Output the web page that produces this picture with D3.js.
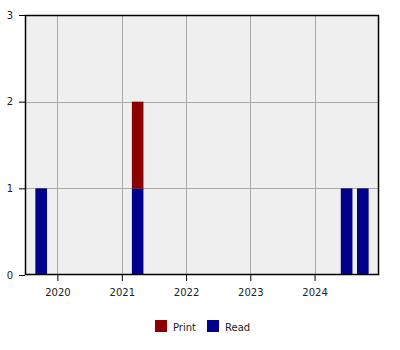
<!DOCTYPE html>
<html>
<head>
<meta charset="utf-8">
<script src="https://cdn.jsdelivr.net/npm/d3@7"></script>
<style>
  body { margin: 0; background: #fff; }
  text { font-family: 'DejaVu Sans', sans-serif; }
</style>
</head>
<body>
<div class="container"></div>
<script>
// quarter start dates and counts per series
const quarters = ['2019-10-01', '2021-04-01', '2024-07-01', '2024-10-01']
const readValues = [1, 1, 1, 1]
const printValues = [0, 1, 0, 0]
const yearTicks = [2020, 2021, 2022, 2023, 2024]
const yTicks = [0, 1, 2, 3]
const seriesNames = ['Print', 'Read']
const seriesColors = ['#8b0000', '#00008b']

const w = 400
const h = 350
const margin = { top: 15, right: 21, bottom: 75, left: 25 }

const parse = d3.timeParse('%Y-%m-%d')
const rows = quarters.map((q, i) => ({ date: parse(q), Read: readValues[i], Print: printValues[i] }))

const svg = d3.select('.container')
  .append('svg')
  .attr('width', w)
  .attr('height', h)

const xScale = d3.scaleTime()
  .domain([new Date(2019, 6, 1), new Date(2025, 0, 1)])
  .range([margin.left, w - margin.right])

const yScale = d3.scaleLinear()
  .domain([0, 3])
  .range([h - margin.bottom, margin.top])

const color = d3.scaleOrdinal().domain(seriesNames).range(seriesColors)

// plot background
svg.append('rect')
  .attr('x', margin.left)
  .attr('y', margin.top)
  .attr('width', w - margin.left - margin.right)
  .attr('height', h - margin.top - margin.bottom)
  .attr('fill', '#efefef')

// grid
const yearDates = yearTicks.map(y => new Date(y, 0, 1))
svg.append('g')
  .selectAll('line')
  .data(yearDates)
  .enter()
  .append('line')
  .attr('x1', d => Math.round(xScale(d)) + 0.5)
  .attr('x2', d => Math.round(xScale(d)) + 0.5)
  .attr('y1', margin.top)
  .attr('y2', h - margin.bottom)
  .attr('stroke', '#aaa')

svg.append('g')
  .selectAll('line')
  .data(yTicks.slice(1, -1))
  .enter()
  .append('line')
  .attr('x1', margin.left)
  .attr('x2', w - margin.right)
  .attr('y1', d => Math.round(yScale(d)) + 0.5)
  .attr('y2', d => Math.round(yScale(d)) + 0.5)
  .attr('stroke', '#aaa')

// stacked bars, Read at the bottom
const stack = d3.stack().keys(['Read', 'Print'])(rows)
const barWidth = d => 0.72 * (xScale(d3.timeMonth.offset(d, 3)) - xScale(d))

svg.append('g')
  .selectAll('g')
  .data(stack)
  .enter()
  .append('g')
  .attr('fill', s => color(s.key))
  .selectAll('rect')
  .data(s => s.filter(d => d[1] > d[0]))
  .enter()
  .append('rect')
  .attr('x', d => xScale(d.data.date) - barWidth(d.data.date) / 2)
  .attr('width', d => barWidth(d.data.date))
  .attr('y', d => yScale(d[1]))
  .attr('height', d => yScale(d[0]) - yScale(d[1]))

// frame
svg.append('rect')
  .attr('x', margin.left + 0.5)
  .attr('y', margin.top + 0.5)
  .attr('width', w - margin.left - margin.right - 1)
  .attr('height', h - margin.top - margin.bottom - 1)
  .attr('fill', 'none')
  .attr('stroke', '#000')
  .attr('stroke-width', 1.5)

const xAxis = d3.axisBottom(xScale)
  .tickValues(yearDates)
  .tickFormat(d3.timeFormat('%Y'))
  .tickSize(6)
  .tickPadding(8)

const yAxis = d3.axisLeft(yScale)
  .tickValues(yTicks)
  .tickFormat(d3.format('d'))
  .tickSize(6)
  .tickPadding(6)

svg.append('g')
  .attr('transform', `translate(0, ${h - margin.bottom})`)
  .call(xAxis)
  .call(g => g.select('.domain').remove())
  .call(g => g.selectAll('text').attr('font-size', 10).attr('fill', '#222').attr('font-family', 'DejaVu Sans'))

svg.append('g')
  .attr('transform', `translate(${margin.left}, 0)`)
  .call(yAxis)
  .call(g => g.select('.domain').remove())
  .call(g => g.selectAll('text').attr('font-size', 10).attr('fill', '#222').attr('font-family', 'DejaVu Sans'))

// legend
const legend = svg.append('g')
  .attr('transform', 'translate(155, 320)')

const items = legend.selectAll('g')
  .data(seriesNames)
  .enter()
  .append('g')
  .attr('transform', (d, i) => `translate(${i * 52}, 0)`)

items.append('rect')
  .attr('width', 12)
  .attr('height', 12)
  .attr('fill', d => color(d))

items.append('text')
  .text(d => d)
  .attr('x', 18)
  .attr('y', 10.5)
  .attr('font-size', 10)
  .attr('fill', '#222')
</script>
</body>
</html>
